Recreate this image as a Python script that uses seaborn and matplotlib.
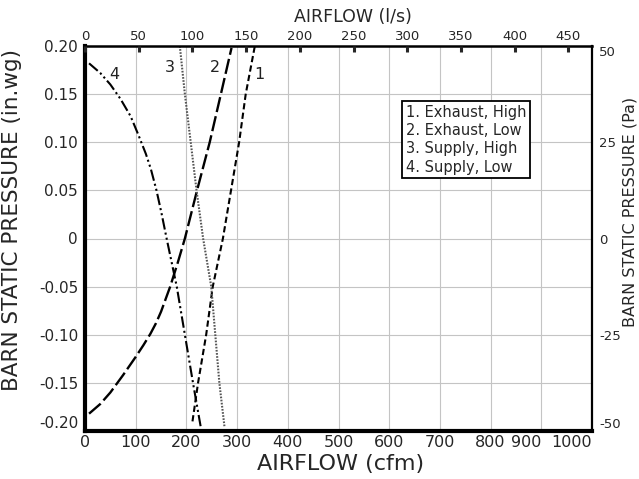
import matplotlib
matplotlib.use("Agg")
import matplotlib.pyplot as plt
import seaborn as sns
import pandas as pd

# ---- data ----
exh_high_cfm = [212, 223, 239, 252, 272, 288, 304, 317, 335]
exh_high_p = [-0.19, -0.15, -0.10, -0.05, 0.0, 0.05, 0.10, 0.15, 0.20]

exh_low_cfm = [8, 30, 50, 75, 100, 115, 129, 140, 150, 168, 183, 197, 221, 246, 268, 289]
exh_low_p = [-0.182, -0.172, -0.160, -0.142, -0.123, -0.111, -0.099, -0.088, -0.076,
             -0.05, -0.025, 0.0, 0.05, 0.10, 0.15, 0.198]

sup_high_cfm = [187, 197, 220, 233, 249, 265, 275]
sup_high_p = [0.20, 0.15, 0.05, 0.0, -0.05, -0.15, -0.195]

sup_low_cfm = [8, 30, 50, 70, 90, 105, 120, 130, 141, 151, 161, 181, 197, 213, 228]
sup_low_p = [0.182, 0.172, 0.160, 0.145, 0.127, 0.108, 0.088, 0.072, 0.05, 0.026, 0.0,
             -0.05, -0.10, -0.15, -0.195]

series_names = ["1. Exhaust, High", "2. Exhaust, Low", "3. Supply, High", "4. Supply, Low"]
curve_tags = ["1", "2", "3", "4"]
tag_cfm = [344, 256, 168, 58]
tag_p = [0.170, 0.178, 0.178, 0.170]

cfm_ticks = list(range(0, 1001, 100))
ls_ticks = list(range(0, 451, 50))
inwg_ticks = [0.20, 0.15, 0.10, 0.05, 0.0, -0.05, -0.10, -0.15, -0.20]
inwg_labels = ["0.20", "0.15", "0.10", "0.05", "0", "-0.05", "-0.10", "-0.15", "-0.20"]
pa_ticks = [50, 25, 0, -25, -50]

CFM_PER_LS = 2.11888
PA_PER_INWG = 249.0

sns.set_style("white")
plt.rcParams["font.family"] = ["DejaVu Sans"]

fig = plt.figure(figsize=(6.39, 4.79), dpi=100)
ax = fig.add_axes([85 / 639, 1 - 431 / 479, 507 / 639, 385 / 479])

styles = [
    dict(linestyle=(0, (3.0, 1.6)), linewidth=1.5, color="black"),
    dict(linestyle=(0, (6.5, 1.8)), linewidth=1.7, color="black"),
    dict(linestyle=(0, (0.8, 0.7)), linewidth=1.5, color="#555555"),
    dict(linestyle=(0, (5.5, 1.5, 1.0, 1.5, 1.0, 1.5)), linewidth=1.5, color="black"),
]
data = [
    (exh_high_cfm, exh_high_p),
    (exh_low_cfm, exh_low_p),
    (sup_high_cfm, sup_high_p),
    (sup_low_cfm, sup_low_p),
]
for name, (xs, ys), st in zip(series_names, data, styles):
    df = pd.DataFrame({"cfm": xs, "p": ys})
    sns.lineplot(data=df, x="cfm", y="p", sort=False, estimator=None, ax=ax, **st)

for t, x, y in zip(curve_tags, tag_cfm, tag_p):
    ax.text(x, y, t, fontsize=11.5, ha="center", va="center", color="#222222")

ax.set_xlim(0, 1000)
ax.set_ylim(-0.20, 0.20)
ax.set_xticks(cfm_ticks)
xt = ax.set_xticklabels([str(v) for v in cfm_ticks], fontsize=11.5)
xt[-1].set_horizontalalignment("right")
xt[-2].set_horizontalalignment("right")
ax.set_yticks(inwg_ticks)
yt = ax.set_yticklabels(inwg_labels, fontsize=11)
yt[-1].set_verticalalignment("bottom")
ax.grid(True, color="#c4c4c4", linewidth=0.8)
ax.tick_params(axis="x", length=0, pad=3)
ax.tick_params(axis="y", length=0, pad=5)
ax.set_xlabel("")
ax.set_ylabel("")

for side, lw in [("left", 3.0), ("bottom", 3.0), ("top", 1.8), ("right", 1.6)]:
    ax.spines[side].set_visible(True)
    ax.spines[side].set_color("black")
    ax.spines[side].set_linewidth(lw)

# top axis (l/s)
axt = ax.twiny()
axt.set_xlim(0, 1000 / CFM_PER_LS)
axt.set_xticks(ls_ticks)
axt.set_xticklabels([str(v) for v in ls_ticks], fontsize=9.5)
axt.tick_params(axis="x", direction="in", length=4, width=2.2, pad=2)
axt.grid(False)

# right axis (Pa)
axr = ax.twinx()
axr.set_ylim(-0.20 * PA_PER_INWG, 0.20 * PA_PER_INWG)
axr.set_yticks(pa_ticks)
rt = axr.set_yticklabels([str(v) for v in pa_ticks], fontsize=9.5)
rt[0].set_verticalalignment("top")
rt[-1].set_verticalalignment("bottom")
axr.tick_params(axis="y", length=0, pad=5)
axr.grid(False)
for a in (axt, axr):
    for s in a.spines.values():
        s.set_visible(False)

# legend box
ax.text(0.633, 0.848, "\n".join(series_names), transform=ax.transAxes,
        fontsize=10.5, ha="left", va="top", linespacing=1.28,
        bbox=dict(boxstyle="square,pad=0.25", facecolor="white", edgecolor="black", linewidth=1.3))

# axis titles
fig.text(12 / 639, 1 - 220 / 479, "BARN STATIC PRESSURE (in.wg)", rotation=90,
         fontsize=15.5, ha="center", va="center")
fig.text(630 / 639, 1 - 212 / 479, "BARN STATIC PRESSURE (Pa)", rotation=90,
         fontsize=11.5, ha="center", va="center")
fig.text(341 / 639, 1 - 464 / 479, "AIRFLOW (cfm)", fontsize=16, ha="center", va="center")
fig.text(353 / 639, 1 - 17 / 479, "AIRFLOW (l/s)", fontsize=12.5, ha="center", va="center")

fig.savefig("out.png", dpi=100, facecolor="white")
